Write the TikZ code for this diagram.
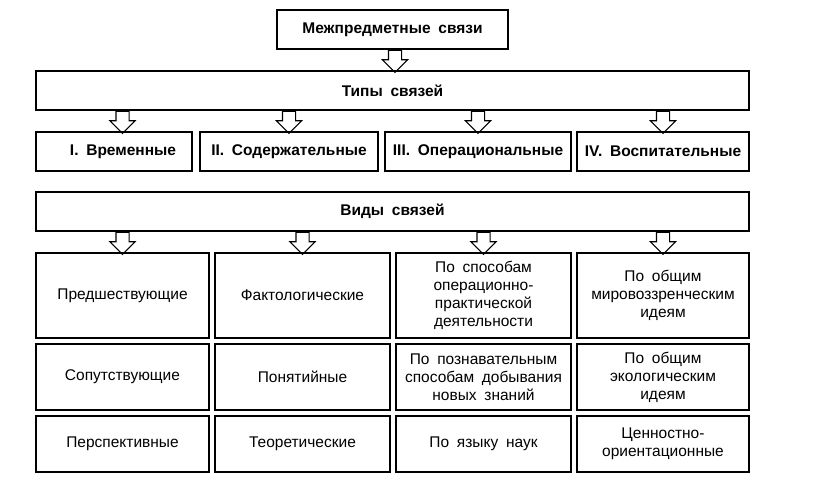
\documentclass[tikz,border=0pt]{standalone}
\usepackage{fontspec}
\setmainfont{Liberation Sans}[WordSpace=1.8]
\usetikzlibrary{shapes.arrows}

\begin{document}
\begin{tikzpicture}[x=1pt,y=-1pt,line width=1.6pt,
  box/.style={draw, inner sep=0pt, align=center},
  head node/.style={box, minimum height=39pt,
    font=\fontsize{15.5}{18}\selectfont\bfseries},
  kind node/.style={box, font=\fontsize{15.5}{18}\selectfont},
  down arrow/.style={single arrow, draw, line width=1.1pt, rotate=-90,
    anchor=tail, minimum height=22pt, inner sep=6pt,
    single arrow head extend=6pt}]

  \useasboundingbox (0,0) rectangle (823,486);

  \node[head node, minimum width=231pt] (mps) at (392.5,29.5)
    {Межпредметные связи};
  \node[head node, minimum width=713pt] (tipy) at (392.5,90.5)
    {Типы связей};

  \node[head node, minimum width=156pt] (t1) at (114,151.5)
    {\hspace*{18pt}I. Временные};
  \node[head node, minimum width=178pt] (t2) at (289,151.5)
    {II. Содержательные};
  \node[head node, minimum width=186pt] (t3) at (478,151.5)
    {III. Операциональные};
  \node[head node, minimum width=172pt] (t4) at (663,151.5)
    {IV. Воспитательные};

  \node[head node, minimum width=713pt] (vidy) at (392.5,211.5)
    {Виды связей};

  % first row
  \node[kind node, minimum width=173pt, minimum height=85pt] (v11)
    at (122.5,295.5) {Предшествующие};
  \node[kind node, minimum width=175pt, minimum height=85pt] (v12)
    at (302.5,295.5) {Фактологические};
  \node[kind node, minimum width=175pt, minimum height=85pt] (v13)
    at (483.5,295.5) {По способам\\операционно-\\практической\\деятельности};
  \node[kind node, minimum width=172pt, minimum height=85pt] (v14)
    at (663,295.5) {По общим\\мировоззренческим\\идеям};

  % second row
  \node[kind node, minimum width=173pt, minimum height=66pt] (v21)
    at (122.5,377) {Сопутствующие};
  \node[kind node, minimum width=175pt, minimum height=66pt] (v22)
    at (302.5,377) {Понятийные};
  \node[kind node, minimum width=175pt, minimum height=66pt] (v23)
    at (483.5,377) {По познавательным\\способам добывания\\новых знаний};
  \node[kind node, minimum width=172pt, minimum height=66pt] (v24)
    at (663,377) {По общим\\экологическим\\идеям};

  % third row
  \node[kind node, minimum width=173pt, minimum height=56pt] (v31)
    at (122.5,444) {Перспективные};
  \node[kind node, minimum width=175pt, minimum height=56pt] (v32)
    at (302.5,444) {Теоретические};
  \node[kind node, minimum width=175pt, minimum height=56pt] (v33)
    at (483.5,444) {По языку наук};
  \node[kind node, minimum width=172pt, minimum height=56pt] (v34)
    at (663,444) {Ценностно-\\ориентационные};

  \node[down arrow] (a0) at ([xshift=2.5pt]mps.south) {};
  \node[down arrow] (a1) at (v11.north |- tipy.south) {};
  \node[down arrow] (a2) at (t2.north |- tipy.south) {};
  \node[down arrow] (a3) at (t3.north |- tipy.south) {};
  \node[down arrow] (a4) at (t4.north |- tipy.south) {};
  \node[down arrow] (b1) at (v11.north |- vidy.south) {};
  \node[down arrow] (b2) at (v12.north |- vidy.south) {};
  \node[down arrow] (b3) at (v13.north |- vidy.south) {};
  \node[down arrow] (b4) at (v14.north |- vidy.south) {};

\end{tikzpicture}
\end{document}
